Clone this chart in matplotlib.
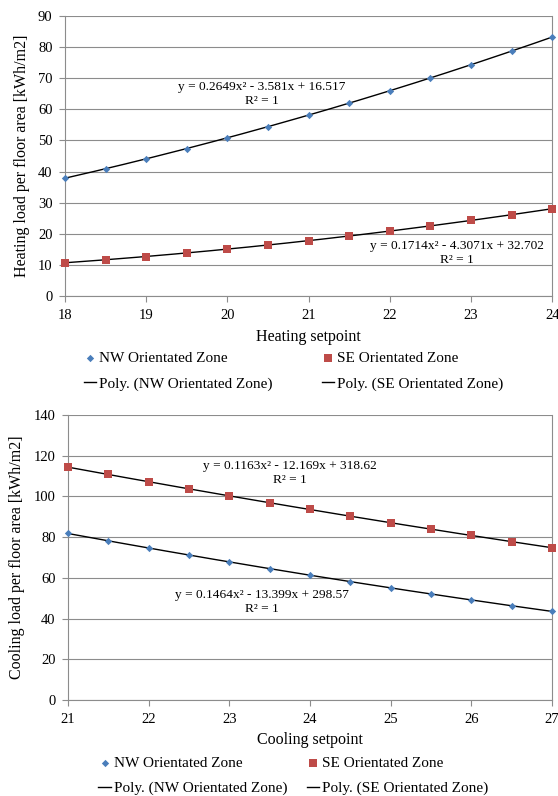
import numpy as np
import matplotlib
matplotlib.use("Agg")
import matplotlib.pyplot as plt

plt.rcParams['font.family'] = ['Liberation Serif', 'DejaVu Serif']

heat_x = [18, 18.5, 19, 19.5, 20, 20.5, 21, 21.5, 22, 22.5, 23, 23.5, 24]
heat_nw = [37.9, 40.9, 44.1, 47.4, 50.9, 54.4, 58.1, 62.0, 66.0, 70.1, 74.3, 78.7, 83.2]
heat_se = [10.7, 11.7, 12.7, 13.9, 15.1, 16.4, 17.8, 19.3, 20.9, 22.6, 24.3, 26.1, 28.1]

cool_x = [21, 21.5, 22, 22.5, 23, 23.5, 24, 24.5, 25, 25.5, 26, 26.5, 27]
cool_nw = [81.8, 78.2, 74.7, 71.2, 67.8, 64.5, 61.3, 58.2, 55.1, 52.1, 49.2, 46.3, 43.5]
cool_se = [114.4, 110.8, 107.2, 103.7, 100.3, 96.9, 93.6, 90.3, 87.1, 83.9, 80.9, 77.8, 74.8]

heat_eq_nw = "y = 0.2649x² - 3.581x + 16.517\nR² = 1"
heat_eq_se = "y = 0.1714x² - 4.3071x + 32.702\nR² = 1"
cool_eq_se = "y = 0.1163x² - 12.169x + 318.62\nR² = 1"
cool_eq_nw = "y = 0.1464x² - 13.399x + 298.57\nR² = 1"

NW_C = '#4a7ebb'
SE_C = '#be4b48'
GRID = '#8c8c8c'
FS = 10.5

fig = plt.figure(figsize=(5.58, 7.96), dpi=100)
ax1 = fig.add_axes([0.1165, 0.628, 0.873, 0.352])
ax2 = fig.add_axes([0.122, 0.1206, 0.867, 0.3580])


def draw(ax, x, nw, se, ylim, ystep, xlabel, ylabel, eqs, leg_x, colsp):
    x = np.array(x)
    xs = np.linspace(x.min(), x.max(), 200)
    p_nw = np.polyfit(x, nw, 2)
    p_se = np.polyfit(x, se, 2)
    h1 = ax.scatter(x, nw, marker='D', s=14, color=NW_C, zorder=3, linewidths=0, clip_on=False)
    h2 = ax.scatter(x, se, marker='s', s=30, color=SE_C, zorder=3, linewidths=0, clip_on=False)
    l1, = ax.plot(xs, np.polyval(p_nw, xs), color='black', lw=1.0, zorder=2)
    l2, = ax.plot(xs, np.polyval(p_se, xs), color='black', lw=1.0, zorder=2)
    ax.set_xlim(x.min(), x.max())
    ax.set_ylim(*ylim)
    ax.set_yticks(np.arange(ylim[0], ylim[1] + 1, ystep))
    ax.set_xticks(np.arange(x.min(), x.max() + 1, 1))
    ax.grid(axis='y', color=GRID, lw=0.8)
    ax.set_axisbelow(True)
    for s in ['left', 'bottom', 'right']:
        ax.spines[s].set_color(GRID)
    ax.spines['top'].set_visible(False)
    ax.tick_params(axis='both', direction='out', color=GRID, length=4, labelsize=FS, pad=5)
    ax.set_xlabel(xlabel, fontsize=FS + 1, labelpad=5)
    ax.set_ylabel(ylabel, fontsize=FS + 1, labelpad=6)
    for txt, xf, yf in eqs:
        ax.text(xf, yf, txt, transform=ax.transAxes, ha='center', va='center',
                multialignment='center', fontsize=9.6, linespacing=1.2)
    leg = ax.legend([h1, l1, h2, l2],
                    ['NW Orientated Zone', 'Poly. (NW Orientated Zone)',
                     'SE Orientated Zone', 'Poly. (SE Orientated Zone)'],
                    loc='upper center', bbox_to_anchor=(leg_x, -0.176), ncol=2,
                    frameon=False, fontsize=FS + 0.5, handlelength=0.8,
                    handletextpad=0.2, columnspacing=colsp, labelspacing=0.75,
                    scatterpoints=1, borderaxespad=0)
    return leg

draw(ax1, heat_x, heat_nw, heat_se, (0, 90), 10, 'Heating setpoint',
     'Heating load per floor area [kWh/m2]',
     [(heat_eq_nw, 0.404, 0.721), (heat_eq_se, 0.805, 0.154)], 0.469, 3.2)
draw(ax2, cool_x, cool_nw, cool_se, (0, 140), 20, 'Cooling setpoint',
     'Cooling load per floor area [kWh/m2]',
     [(cool_eq_se, 0.459, 0.796), (cool_eq_nw, 0.401, 0.344)], 0.466, 1.3)

fig.savefig('out.png', dpi=100)
